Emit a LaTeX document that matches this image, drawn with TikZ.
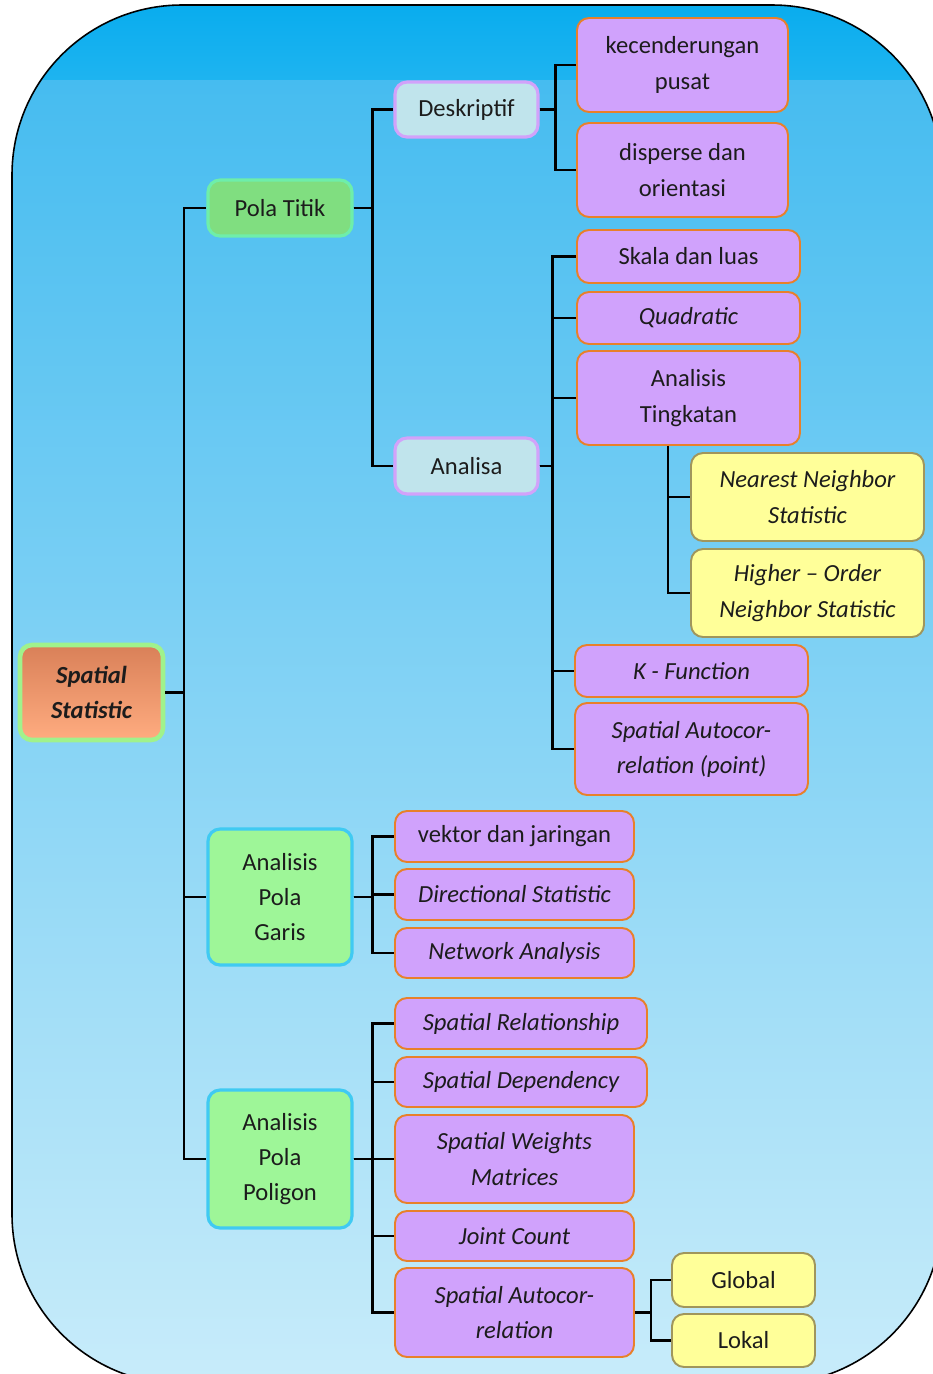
\documentclass[tikz,border=0pt]{standalone}
\usepackage{fontspec}
\setmainfont{Carlito}
\usepackage{xcolor}

\definecolor{ink}{RGB}{28,28,28}
\definecolor{bandtop}{RGB}{8,172,238}
\definecolor{bandbot}{RGB}{30,180,240}
\definecolor{bgtop}{RGB}{70,188,240}
\definecolor{bgbot}{RGB}{200,236,250}
\definecolor{roottop}{RGB}{217,128,88}
\definecolor{rootbot}{RGB}{255,172,128}
\definecolor{rootline}{RGB}{160,242,140}
\definecolor{titikfill}{RGB}{128,222,128}
\definecolor{titikline}{RGB}{110,238,170}
\definecolor{polafill}{RGB}{158,246,152}
\definecolor{polaline}{RGB}{64,202,242}
\definecolor{subfill}{RGB}{192,228,236}
\definecolor{subline}{RGB}{210,162,250}
\definecolor{leaffill}{RGB}{208,162,252}
\definecolor{leafline}{RGB}{232,128,42}
\definecolor{tipfill}{RGB}{255,255,153}
\definecolor{tipline}{RGB}{160,150,92}

\begin{document}
\begin{tikzpicture}[x=0.02cm, y=-0.02cm, text=ink,
    font=\fontsize{14}{20}\selectfont,
    box/.style={rounded corners=0.24cm, align=center, inner sep=0pt},
    it/.style={font=\fontsize{14}{20}\selectfont\itshape},
    root node/.style={box, draw=rootline, line width=2.6pt, top color=roottop, bottom color=rootbot,
        font=\fontsize{14}{20}\selectfont\bfseries\itshape},
    titik node/.style={box, draw=titikline, line width=1.8pt, fill=titikfill},
    pola node/.style={box, draw=polaline, line width=1.8pt, fill=polafill},
    sub node/.style={box, draw=subline, line width=1.8pt, fill=subfill},
    leaf node/.style={box, draw=leafline, line width=1.1pt, fill=leaffill},
    tip node/.style={box, draw=tipline, line width=1.1pt, fill=tipfill},
    elbow/.style={to path={-- ++(#1,0) |- (\tikztotarget)}}, elbow/.default=19,
    drop/.style={to path={|- (\tikztotarget)}}]

    \useasboundingbox (0,0) rectangle (933,1374);

    % background
    \begin{scope}
        \clip[rounded corners=3.4cm] (12,5) rectangle (942,1384);
        \fill[top color=bandtop, bottom color=bandbot] (0,0) rectangle (942,80);
        \fill[top color=bgtop, bottom color=bgbot] (0,80) rectangle (942,1384);
    \end{scope}
    \draw[rounded corners=3.4cm, line width=0.9pt] (12,5) rectangle (942,1384);

    \node[root node, minimum width=2.86cm, minimum height=1.90cm] (1) at (91.5,692.5) {Spatial\\Statistic};

    \node[titik node, minimum width=2.88cm, minimum height=1.12cm] (2) at (280,208) {Pola Titik};
    \node[pola node, minimum width=2.88cm, minimum height=2.72cm] (3) at (280,897) {Analisis\\Pola\\Garis};
    \node[pola node, minimum width=2.88cm, minimum height=2.76cm] (4) at (280,1159) {Analisis\\Pola\\Poligon};

    \node[sub node, minimum width=2.86cm, minimum height=1.10cm] (5) at (466.5,109.5) {Deskriptif};
    \node[sub node, minimum width=2.86cm, minimum height=1.12cm] (6) at (466.5,466) {Analisa};

    \node[leaf node, minimum width=4.22cm, minimum height=1.88cm] (7) at (682.5,65) {kecenderungan\\pusat};
    \node[leaf node, minimum width=4.22cm, minimum height=1.88cm] (8) at (682.5,170) {disperse dan\\orientasi};
    \node[leaf node, minimum width=4.46cm, minimum height=1.06cm] (9) at (688.5,256.5) {Skala dan luas};
    \node[leaf node, it, minimum width=4.46cm, minimum height=1.04cm] (10) at (688.5,318) {Quadratic};
    \node[leaf node, minimum width=4.46cm, minimum height=1.88cm] (11) at (688.5,398) {Analisis\\Tingkatan};
    \node[tip node, it, minimum width=4.66cm, minimum height=1.76cm] (12) at (807.5,497) {Nearest Neighbor\\Statistic};
    \node[tip node, it, minimum width=4.66cm, minimum height=1.76cm] (13) at (807.5,593) {Higher -- Order\\Neighbor Statistic};
    \node[leaf node, it, minimum width=4.66cm, minimum height=1.04cm] (14) at (691.5,671) {K - Function};
    \node[leaf node, it, minimum width=4.66cm, minimum height=1.84cm] (15) at (691.5,749) {Spatial Autocor-\\relation (point)};

    \node[leaf node, minimum width=4.78cm, minimum height=1.02cm] (16) at (514.5,836.5) {vektor dan jaringan};
    \node[leaf node, it, minimum width=4.78cm, minimum height=1.02cm] (17) at (514.5,894.5) {Directional Statistic};
    \node[leaf node, it, minimum width=4.78cm, minimum height=1.00cm] (18) at (514.5,953) {Network Analysis};

    \node[leaf node, it, minimum width=5.04cm, minimum height=1.02cm] (19) at (521,1023.5) {Spatial Relationship};
    \node[leaf node, it, minimum width=5.04cm, minimum height=1.00cm] (20) at (521,1082) {Spatial Dependency};
    \node[leaf node, it, minimum width=4.78cm, minimum height=1.76cm] (21) at (514.5,1159) {Spatial Weights\\Matrices};
    \node[leaf node, it, minimum width=4.78cm, minimum height=1.00cm] (22) at (514.5,1236) {Joint Count};
    \node[leaf node, it, minimum width=4.78cm, minimum height=1.78cm] (23) at (514.5,1312.5) {Spatial Autocor-\\relation};

    \node[tip node, minimum width=2.86cm, minimum height=1.08cm] (24) at (743.5,1280) {Global};
    \node[tip node, minimum width=2.86cm, minimum height=1.06cm] (25) at (743.5,1340.5) {Lokal};

    \path[every edge/.append style={draw=black, line width=1.3pt}]
        (1.east) edge[elbow] (2) edge[elbow] (3) edge[elbow] (4)

        (2.east) edge[elbow] (5) edge[elbow] (6)

        (5.east) edge[elbow=16] (7) edge[elbow=16] (8)

        (6.east) edge[elbow=13] (9) edge[elbow=13] (10) edge[elbow=13] (11)
                 edge[elbow=13] (14) edge[elbow=13] (15)

        ([xshift=-0.41cm]11.south) edge[drop] (12) edge[drop] (13)

        (3.east) edge[elbow] (16) edge[elbow] (17) edge[elbow] (18)

        (4.east) edge[elbow] (19) edge[elbow] (20) edge[elbow] (21)
                 edge[elbow] (22) edge[elbow] (23)

        (23.east) edge[elbow=16] (24) edge[elbow=16] (25)
        ;
\end{tikzpicture}
\end{document}
